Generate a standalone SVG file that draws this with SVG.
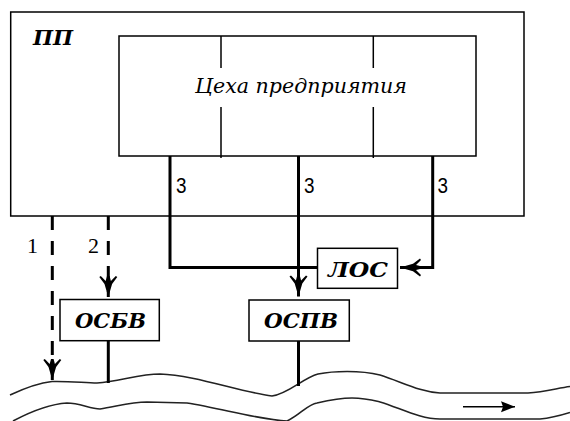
<svg xmlns="http://www.w3.org/2000/svg" width="570" height="421" viewBox="0 0 570 421">
<style>
.box{fill:#fff;stroke:#000;stroke-width:1.5}
.thin{fill:none;stroke:#000;stroke-width:1.5}
.thick{fill:none;stroke:#000;stroke-width:3}
.dash{fill:none;stroke:#000;stroke-width:3;stroke-dasharray:14 11}
.river{fill:none;stroke:#222;stroke-width:1.6}
.lbl{font-family:"DejaVu Serif","Liberation Serif",serif;font-weight:bold;font-style:italic;font-size:20px;fill:#000}
.it{font-family:"DejaVu Serif","Liberation Serif",serif;font-style:italic;font-size:20px;fill:#000}
.num{font-family:"Liberation Serif",serif;font-size:22px;fill:#000}
.n3{font-family:"Liberation Sans",sans-serif;font-size:22px;fill:#000}
</style>
<defs>
<marker id="fa" markerUnits="userSpaceOnUse" markerWidth="30" markerHeight="24" viewBox="-24 -12 26 24" refX="0" refY="0" orient="auto">
<path d="M0,0 L-13,-3.8 L-20,-9 L-21,-7.5 L-16,-2.6 L-21,-1.3 L-21,1.3 L-16,2.6 L-21,7.5 L-20,9 L-13,3.8 Z" fill="#000"/>
</marker>
<marker id="ra" markerUnits="userSpaceOnUse" markerWidth="16" markerHeight="14" viewBox="-15 -7 16 14" refX="0" refY="0" orient="auto">
<path d="M0,0 L-14,-5.5 L-12,0 L-14,5.5 Z" fill="#000"/>
</marker>
</defs>
<g id="pp">
<rect class="box" x="10.7" y="12" width="513.3" height="204"/>
<text class="lbl" x="33" y="45" textLength="40" lengthAdjust="spacingAndGlyphs">ПП</text>
</g>
<g id="shops">
<rect class="box" x="119" y="36" width="357" height="120"/>
<line class="thin" x1="221" y1="36" x2="221" y2="68"/>
<line class="thin" x1="221" y1="107" x2="221" y2="158"/>
<line class="thin" x1="373.3" y1="36" x2="373.3" y2="68"/>
<line class="thin" x1="373.3" y1="107" x2="373.3" y2="158"/>
<text class="it" x="195" y="93" textLength="212" lengthAdjust="spacingAndGlyphs">Цеха предприятия</text>
</g>
<g id="los">
<rect class="box" x="317.5" y="248.3" width="80" height="40"/>
<text class="lbl" x="328" y="277" textLength="60" lengthAdjust="spacingAndGlyphs">ЛОС</text>
</g>
<g id="osbv">
<rect class="box" x="60" y="299.5" width="99.3" height="41.2"/>
<text class="lbl" x="75" y="328" textLength="71" lengthAdjust="spacingAndGlyphs">ОСБВ</text>
</g>
<g id="ospv">
<rect class="box" x="249" y="300" width="100.3" height="41"/>
<text class="lbl" x="264" y="328" textLength="74" lengthAdjust="spacingAndGlyphs">ОСПВ</text>
</g>
<g id="river">
<path class="river" d="M10,395 C25,388 38,383 52,381.5 C70,381 85,383 97,383 C120,381 140,374 160,374 C195,375 240,392 272,396 C288,394 303,378 318,374 C333,371 360,370 380,375 C402,382 420,392 440,393 L528,393 C545,392 558,388 570,386.5"/>
<path class="river" d="M13,421 C30,412 50,404 67,403 C80,403 90,409 100,409 C115,407 130,402 147,402 L187,403 C220,408 260,420 287,421 C300,415 308,404 317,403 C330,400 340,398 352,398 C365,398 372,400 380,402 C400,408 420,419 440,419 L540,419 C552,418 562,415 570,412.5"/>
<line class="thin" x1="463" y1="406.7" x2="515" y2="406.7" marker-end="url(#ra)"/>
</g>
<g id="connectors">
<line class="dash" x1="52.3" y1="216" x2="52.3" y2="380" marker-end="url(#fa)"/>
<line class="dash" x1="108.3" y1="216" x2="108.3" y2="297" marker-end="url(#fa)"/>
<polyline class="thick" points="170,156 170,267.5 317.5,267.5"/>
<line class="thick" x1="298.5" y1="156" x2="298.5" y2="296.5" marker-end="url(#fa)"/>
<polyline class="thick" points="432.7,156 432.7,267.5 400,267.5" marker-end="url(#fa)"/>
<line class="thick" x1="108.3" y1="340.7" x2="108.3" y2="383"/>
<line class="thick" x1="298.5" y1="341" x2="298.5" y2="386"/>
<text class="n3" x="176" y="193.3" textLength="10.5" lengthAdjust="spacingAndGlyphs">3</text>
<text class="n3" x="304" y="193.3" textLength="10.5" lengthAdjust="spacingAndGlyphs">3</text>
<text class="n3" x="437.5" y="193.3" textLength="10.5" lengthAdjust="spacingAndGlyphs">3</text>
<text class="num" x="27" y="253">1</text>
<text class="num" x="88" y="253">2</text>
</g>
</svg>
